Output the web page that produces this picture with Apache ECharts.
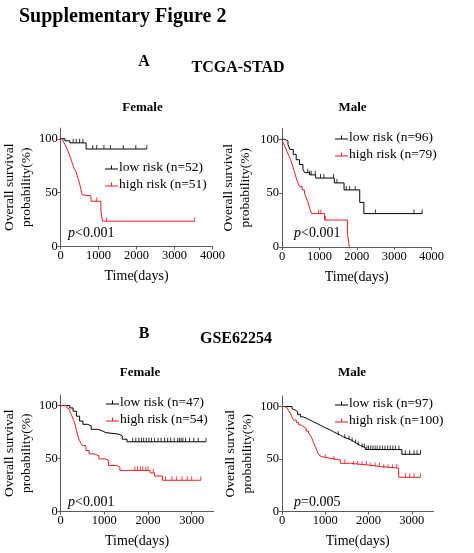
<!DOCTYPE html>
<html><head><meta charset="utf-8">
<script src="https://cdn.jsdelivr.net/npm/echarts@6/dist/echarts.min.js"></script>
<style>html,body{margin:0;padding:0;background:#fff}#c{width:474px;height:553px}</style>
</head><body><div id="c"></div>
<script>
// ---------- DATA ----------
const yTicks = [0, 50, 100];
const xTicksA = [0, 1000, 2000, 3000, 4000];
const xTicksB = [0, 1000, 2000, 3000];

// A: TCGA-STAD, Female
const aFemLowT = [0, 113, 242, 670, 2270];
const aFemLowS = [100, 98.1, 96.2, 90.5, 90.5];
const aFemLowC = [330, 410, 500, 585, 845, 950, 1140, 1310, 1650, 1980, 2270];
const aFemHighT = [0, 60, 110, 150, 200, 240, 280, 320, 360, 400, 430, 470, 500, 530, 550, 570, 585, 800, 1060, 1100, 3530];
const aFemHighS = [100, 98, 95, 92, 88, 84, 80, 76, 72, 70, 66, 62, 58, 54, 50, 48, 47, 42, 34, 23.5, 23.5];
const aFemHighC = [950, 1210, 3530];

// A: TCGA-STAD, Male
const aMaleLowT = [0, 70, 160, 210, 300, 380, 470, 560, 610, 740, 900, 1400, 1660, 2080, 2190, 3750];
const aMaleLowS = [100, 98.4, 95.3, 90.6, 86, 81, 76.6, 72, 69, 67, 64, 59.5, 53, 41.4, 31, 31];
const aMaleLowC = [690, 740, 780, 890, 1030, 1120, 1380, 1470, 1720, 1810, 1960, 2500, 3530, 3750];
const aMaleHighT = [0, 30, 80, 130, 180, 230, 280, 330, 380, 430, 480, 540, 600, 640, 690, 740, 790, 1140, 1750, 1800];
const aMaleHighS = [100, 97, 93, 89, 85, 81, 76, 70, 64, 59, 56, 53, 50, 46.5, 42, 36, 31, 25, 12.5, 0];
const aMaleHighC = [980, 1040, 1160];

// B: GSE62254, Female
const bFemLowT = [0, 210, 285, 360, 435, 510, 620, 700, 850, 960, 1035, 1335, 1410, 1520, 3330];
const bFemLowS = [100, 97.8, 94.7, 90, 85.4, 82.3, 80.7, 77.6, 76, 74.5, 73, 71.4, 68.3, 65.8, 65.8];
const bFemLowC = [1650, 1720, 1790, 1850, 1900, 1960, 2020, 2080, 2150, 2230, 2300, 2380, 2450, 2520, 2600, 2680, 2720, 2760, 2800, 2860, 2950, 3050, 3150, 3330];
const bFemHighT = [0, 140, 175, 210, 245, 285, 320, 356, 393, 431, 470, 504, 578, 653, 764, 875, 1022, 1097, 1282, 1356, 2050, 2150, 2330, 3210];
const bFemHighS = [100, 98.1, 96.3, 94.4, 91.6, 87, 83.8, 77.6, 71.4, 66.8, 64, 62.1, 57.5, 54.4, 52.8, 49.7, 48.1, 43.5, 41.9, 38.8, 36.5, 33.5, 29.5, 29.5];
const bFemHighC = [1700, 1760, 1830, 1880, 1950, 2000, 2120, 2400, 2550, 2650, 2780, 2900, 3000, 3210];

// B: GSE62254, Male
const bMaleLowT = [0, 230, 270, 310, 360, 425, 480, 577, 650, 732, 810, 886, 960, 1040, 1120, 1194, 1270, 1348, 1420, 1501, 1580, 1656, 1730, 1810, 1925, 2770, 3200];
const bMaleLowS = [100, 98, 96.5, 95, 92.6, 90.2, 88.6, 87, 85.4, 83.8, 82.2, 80.6, 79, 77.5, 75.9, 74.3, 72.7, 71, 69.7, 68.5, 66.6, 64.8, 62.9, 61, 59, 54.5, 54.5];
const bMaleLowC = [1300, 1450, 1550, 1620, 1700, 1760, 1850, 1900, 1960, 2000, 2050, 2100, 2150, 2200, 2260, 2320, 2380, 2440, 2500, 2560, 2620, 2700, 2850, 2950, 3050, 3120, 3200];
const bMaleHighT = [0, 60, 115, 155, 193, 230, 270, 330, 386, 440, 501, 560, 617, 660, 694, 730, 771, 810, 848, 890, 925, 1117, 1348, 1579, 1963, 2272, 2695, 3200];
const bMaleHighS = [100, 99, 98, 96, 93.7, 90, 87, 84.7, 82.4, 80.7, 79, 76.6, 74.3, 72, 69.5, 65.6, 61.7, 57.7, 53.8, 52.2, 50.7, 49, 45.9, 44.4, 42.8, 41.3, 32.6, 32.6];
const bMaleHighC = [1000, 1200, 1450, 1650, 1750, 1850, 1950, 2050, 2150, 2250, 2350, 2450, 2550, 2650, 2850, 2950, 3050, 3200];

const panels = [
  {low:'low risk (n=52)', high:'high risk (n=51)', lowT:aFemLowT, lowS:aFemLowS, lowC:aFemLowC, highT:aFemHighT, highS:aFemHighS, highC:aFemHighC,
   xMax:4000, xTicks:xTicksA, grid:{left:57, top:128, width:155.5, height:118.5}, nameGap:21, legend:{left:105, top:160.5}},
  {low:'low risk (n=96)', high:'high risk (n=79)', lowT:aMaleLowT, lowS:aMaleLowS, lowC:aMaleLowC, highT:aMaleHighT, highS:aMaleHighS, highC:aMaleHighC,
   xMax:4000, xTicks:xTicksA, grid:{left:282, top:128.5, width:149.5, height:118.5}, nameGap:28, legend:{left:335, top:130.5}},
  {low:'low risk (n=47)', high:'high risk (n=54)', lowT:bFemLowT, lowS:bFemLowS, lowC:bFemLowC, highT:bFemHighT, highS:bFemHighS, highC:bFemHighC,
   xMax:3500, xTicks:xTicksB, grid:{left:57, top:395, width:156.5, height:116.5}, nameGap:21, legend:{left:106, top:395.5}},
  {low:'low risk (n=97)', high:'high risk (n=100)', lowT:bMaleLowT, lowS:bMaleLowS, lowC:bMaleLowC, highT:bMaleHighT, highS:bMaleHighS, highC:bMaleHighC,
   xMax:3500, xTicks:xTicksB, grid:{left:282, top:396, width:151.5, height:115.5}, nameGap:23, legend:{left:335, top:396.5}}
];

// ---------- STYLE ----------
const FONT = 'Liberation Serif';
const BLACK = '#000000', RED = '#ee1c1c', AXIS = '#5a5a5a';
const ICON = 'path://M0,3h13v1h-13z M6,0h1v4h-1z';
const CENSOR = 'path://M0,0h1v4h-1z';

function steps(T, S){ return T.map((t,i)=>[t, S[i]]); }
function survAt(T, S, t){ let v = S[0]; for (let i=0;i<T.length;i++){ if (T[i] <= t) v = S[i]; } return v; }
function censorPts(T, S, C){ return C.map(t=>[t, survAt(T,S,t)]); }

const grids=[], xAxes=[], yAxes=[], series=[], legends=[];
panels.forEach((p,k)=>{
  grids.push(p.grid);
  xAxes.push({type:'value', gridIndex:k, min:0, max:p.xMax, interval:1000,
    name:'Time(days)', nameLocation:'middle', nameGap:23,
    nameTextStyle:{fontFamily:FONT, fontSize:14, color:'#000'},
    axisLine:{lineStyle:{color:AXIS, width:1}},
    axisTick:{length:3, lineStyle:{color:AXIS}, customValues:p.xTicks},
    axisLabel:{fontFamily:FONT, fontSize:12.5, color:'#000', margin:3, customValues:p.xTicks, formatter:v=>String(v)},
    splitLine:{show:false}});
  yAxes.push({type:'value', gridIndex:k, min:0, max:110, interval:50,
    name:'Overall survival\nprobability(%)', nameLocation:'middle', nameRotate:90, nameGap:p.nameGap,
    nameTextStyle:{fontFamily:FONT, fontSize:13.5, lineHeight:17, color:'#000'},
    axisLine:{show:true, lineStyle:{color:AXIS, width:1}},
    axisTick:{show:true, length:3, lineStyle:{color:AXIS}, customValues:yTicks},
    axisLabel:{fontFamily:FONT, fontSize:12.5, color:'#000', margin:3, customValues:yTicks, formatter:v=>String(v)},
    splitLine:{show:false}});
  [['low', BLACK], ['high', RED]].forEach(([g, col])=>{
    series.push({type:'line', name:p[g], xAxisIndex:k, yAxisIndex:k, step:'end', symbol:'none',
      data:steps(p[g+'T'], p[g+'S']), lineStyle:{color:col, width:1}, itemStyle:{color:col}, animation:false, z:3});
    series.push({type:'scatter', name:p[g]+' censored', xAxisIndex:k, yAxisIndex:k,
      data:censorPts(p[g+'T'], p[g+'S'], p[g+'C']), symbol:CENSOR, symbolSize:[1,4], symbolOffset:[0,-2],
      itemStyle:{color:col}, animation:false, silent:true, z:4});
  });
  legends.push({data:[
      {name:p.low, icon:ICON, itemStyle:{color:BLACK, borderWidth:0}},
      {name:p.high, icon:ICON, itemStyle:{color:RED, borderWidth:0}}],
    orient:'vertical', left:p.legend.left, top:p.legend.top,
    itemWidth:13, itemHeight:4, itemGap:3, padding:0, selectedMode:false,
    textStyle:{fontFamily:FONT, fontSize:13.5, color:'#000', padding:[0,0,0,-4]}});
});

function txt(x, y, text, size){
  return {type:'text', x:x, y:y, silent:true,
    style:{text:text, fill:'#000', fontFamily:FONT, fontSize:size, fontWeight:'bold', align:'center', verticalAlign:'middle'}};
}
function pval(x, y, rest){
  return {type:'text', x:x, y:y, silent:true,
    style:{text:'{i|p}'+rest, fill:'#000', fontFamily:FONT, fontSize:14, align:'left', verticalAlign:'middle',
      rich:{i:{fontStyle:'italic', fontFamily:FONT, fontSize:14, fill:'#000'}}}};
}
const graphics = [
  {type:'text', x:19, y:17, silent:true, style:{text:'Supplementary Figure 2', fill:'#000', fontFamily:FONT, fontSize:20, fontWeight:'bold', align:'left', verticalAlign:'middle'}},
  txt(144, 62, 'A', 16), txt(238, 68, 'TCGA-STAD', 16),
  txt(142.5, 108, 'Female', 13), txt(352.5, 108, 'Male', 13),
  txt(144, 334, 'B', 16), txt(236, 339, 'GSE62254', 16),
  txt(140, 373, 'Female', 13), txt(352, 373, 'Male', 13),
  pval(68, 233, '<0.001'), pval(294, 233, '<0.001'),
  pval(68, 502, '<0.001'), pval(294, 502, '=0.005')
];

const chart = echarts.init(document.getElementById('c'), null, {renderer:'canvas'});
chart.setOption({backgroundColor:'#fff', animation:false,
  grid:grids, xAxis:xAxes, yAxis:yAxes, series:series, legend:legends, graphic:graphics});
</script></body></html>
